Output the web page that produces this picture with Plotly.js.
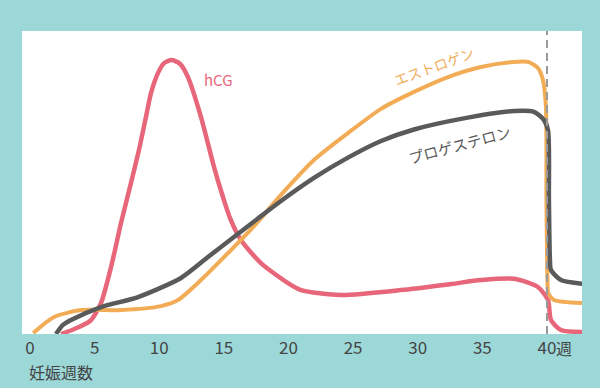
<!DOCTYPE html>
<html>
<head>
<meta charset="utf-8">
<script src="https://cdn.plot.ly/plotly-3.0.1.min.js"></script>
<style>
html,body{margin:0;padding:0;background:#9dd8d9;}
#chart{width:600px;height:388px;}
</style>
</head>
<body>
<div id="chart"></div>
<script>
// weeks of pregnancy (x) and relative hormone level (y, 0-100)
const hcgWeeks = [2.4, 3.3, 3.95, 4.72, 5.49, 6.27, 7.04, 7.81, 8.43, 8.97, 9.36, 9.9, 10.37, 10.95, 11.6, 12.22, 13.23, 14.24, 14.93, 15.5, 16.32, 17.87, 19.96, 20.97, 24.06, 28.7, 32.57, 34.89, 37.45, 39.3, 40.08, 40.31, 41.08, 42.86];
const hcgLevel = [0, 1.4, 2.6, 4.6, 10.2, 22.1, 36.6, 49.8, 60.7, 71.6, 79.5, 86.1, 89.4, 90.4, 89.2, 84.8, 71.6, 55.1, 45.2, 38.0, 31.0, 23.4, 16.8, 14.5, 12.9, 14.5, 16.5, 17.8, 18.2, 15.5, 11.2, 4.6, 1.3, 0.7];

const estWeeks = [0.25, 1.86, 3.95, 7.04, 10.14, 11.45, 13.23, 15.32, 17.33, 19.42, 21.97, 24.6, 27.16, 29.71, 32.34, 34.89, 37.45, 38.53, 39.3, 39.69, 39.92, 39.96, 40.04, 40.1, 40.54, 42.86];
const estLevel = [0.3, 5.6, 7.9, 7.9, 9.2, 11.2, 17.8, 26.7, 35.6, 45.9, 57.4, 66.3, 74.3, 79.9, 84.8, 88.1, 89.8, 89.8, 87.8, 83.8, 74.9, 44.0, 17.8, 13.5, 11.2, 10.2];

const proWeeks = [2.01, 2.55, 3.17, 5.49, 8.36, 11.68, 13.77, 15.78, 17.87, 19.42, 21.97, 24.6, 27.16, 29.71, 33.35, 37.45, 39.0, 39.77, 40.08, 40.15, 40.23, 40.31, 41.08, 42.86];
const proLevel = [0, 3.0, 4.6, 8.9, 12.2, 18.5, 25.4, 32.0, 38.9, 43.9, 51.5, 58.2, 63.7, 67.5, 71.0, 73.6, 73.3, 70.6, 67.3, 44.2, 24.4, 21.1, 17.8, 16.5];

const tickWeeks = [0, 5, 10, 15, 20, 25, 30, 35, 40];
const tickLabels = ['0', '5', '10', '15', '20', '25', '30', '35', '40'];
const termWeek = 40;

const FONT = '"Noto Sans CJK JP", "Noto Sans", sans-serif';
const PINK = '#e8667a', ORANGE = '#f2ac56', GRAY = '#5a5a5a';

const traces = [
  {x: hcgWeeks, y: hcgLevel, mode: 'lines', line: {color: PINK, width: 4.5, shape: 'spline', smoothing: 0.7}, hoverinfo: 'skip'},
  {x: estWeeks, y: estLevel, mode: 'lines', line: {color: ORANGE, width: 4, shape: 'spline', smoothing: 0.7}, hoverinfo: 'skip'},
  {x: proWeeks, y: proLevel, mode: 'lines', line: {color: GRAY, width: 4.5, shape: 'spline', smoothing: 0.7}, hoverinfo: 'skip'}
];

function px(xp) { return (xp - 22) / 560; }
function py(yp) { return (334 - yp) / 303; }

const layout = {
  width: 600, height: 388,
  paper_bgcolor: '#9dd8d9',
  plot_bgcolor: '#ffffff',
  showlegend: false,
  margin: {l: 22, r: 18, t: 31, b: 54, pad: 0},
  font: {family: FONT, color: '#444444'},
  xaxis: {
    range: [-0.62, 42.71], showgrid: false, zeroline: false, showline: false,
    tickvals: tickWeeks, ticktext: tickLabels, ticks: '',
    tickfont: {family: FONT, size: 17, color: '#444444'},
    ticklabelstandoff: 2, fixedrange: true
  },
  yaxis: {range: [0, 100], visible: false, fixedrange: true},
  shapes: [
    {type: 'line', xref: 'x', yref: 'paper', x0: termWeek, x1: termWeek, y0: 0, y1: 1,
     line: {color: '#9a9a9a', width: 2, dash: '8px,5px'}, layer: 'above'}
  ],
  annotations: [
    {text: 'hCG', xref: 'paper', yref: 'paper', x: px(218), y: py(80), xanchor: 'center', yanchor: 'middle', showarrow: false,
     font: {family: FONT, size: 15, color: PINK}},
    {text: 'エストロゲン', xref: 'paper', yref: 'paper', x: px(434), y: py(66), xanchor: 'center', yanchor: 'middle', showarrow: false,
     textangle: -20, font: {family: FONT, size: 14, color: ORANGE}},
    {text: 'プロゲステロン', xref: 'paper', yref: 'paper', x: px(459), y: py(144), xanchor: 'center', yanchor: 'middle', showarrow: false,
     textangle: -15, font: {family: FONT, size: 15, color: GRAY}},
    {text: '週', xref: 'paper', yref: 'paper', x: px(564), y: py(348), xanchor: 'center', yanchor: 'middle', showarrow: false,
     font: {family: FONT, size: 16, color: '#444444'}},
    {text: '妊娠週数', xref: 'paper', yref: 'paper', x: px(27), y: py(372), xanchor: 'left', yanchor: 'middle', showarrow: false,
     font: {family: FONT, size: 16, color: '#444444'}}
  ]
};

Plotly.newPlot('chart', traces, layout, {staticPlot: true, displayModeBar: false});
</script>
</body>
</html>
